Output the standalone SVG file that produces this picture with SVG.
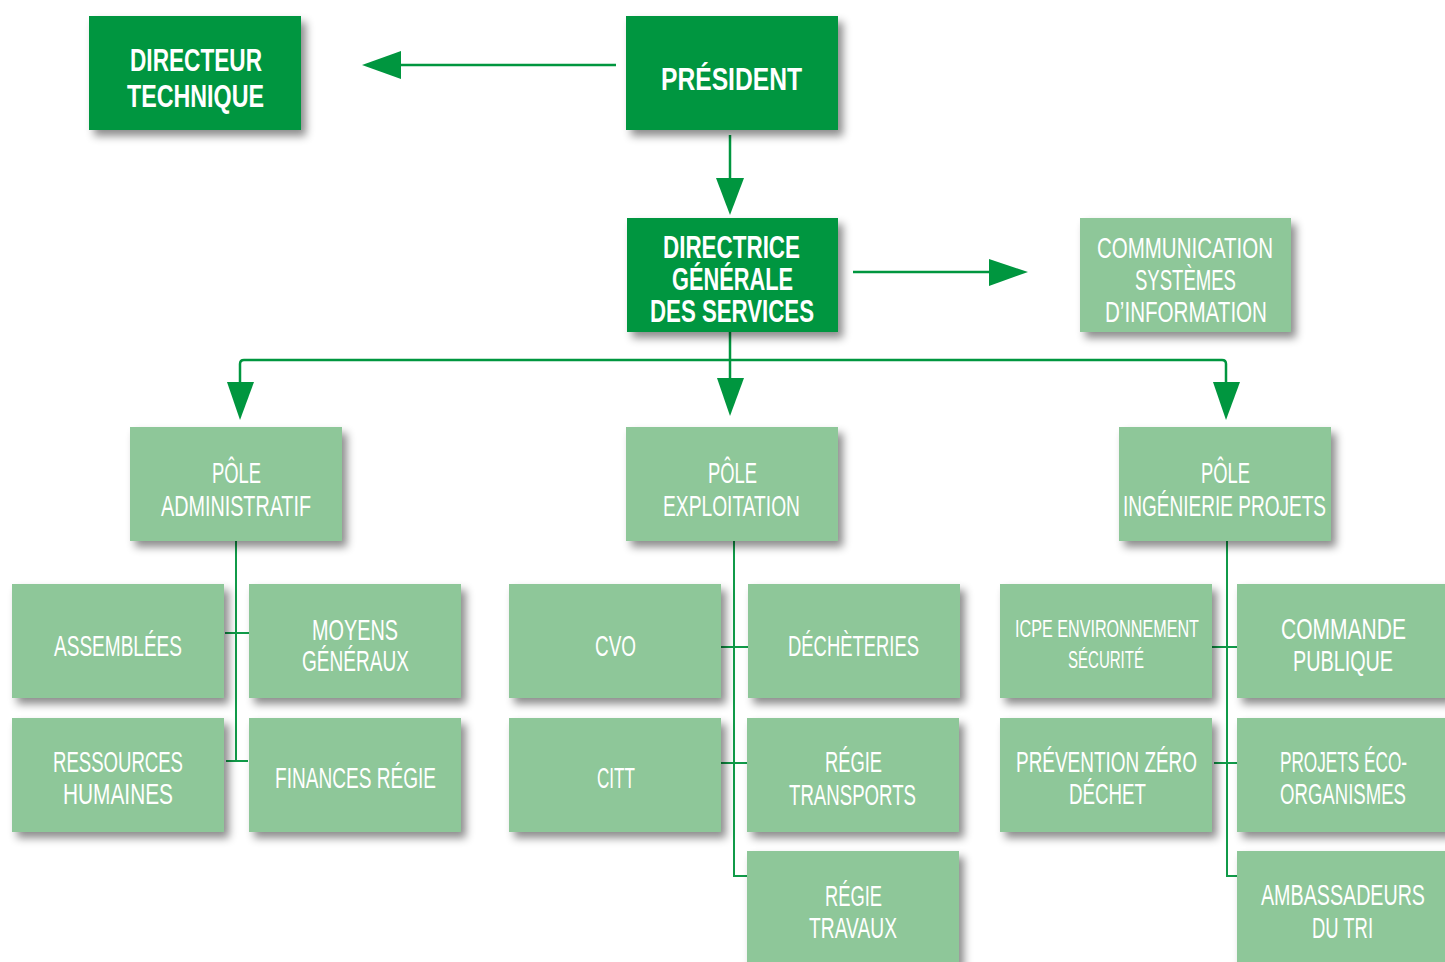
<svg xmlns="http://www.w3.org/2000/svg" width="1445" height="962" viewBox="0 0 1445 962">
<defs>
<filter id="sh" x="-10%" y="-10%" width="130%" height="140%">
<feDropShadow dx="5" dy="6" stdDeviation="4" flood-color="#000" flood-opacity="0.45"/>
</filter>
<style>
.dark{fill:#00963f;filter:url(#sh)}
.light{fill:#8ec799;filter:url(#sh)}
text{fill:#fff;font-family:"Liberation Sans Narrow","Liberation Sans",Arial,sans-serif;text-anchor:middle}
.b{font-weight:bold;font-size:31px}
.r{font-size:29px}
.s{font-size:24px}
.arr{stroke:#00963f;stroke-width:2.5;fill:none}
.ah{fill:#00963f}
.ln{stroke:#109a48;stroke-width:2;fill:none}
</style>
</defs>
<rect width="1445" height="962" fill="#fff"/>

<g id="connectors">
<line class="arr" x1="616" y1="65" x2="398" y2="65"/>
<polygon class="ah" points="362,65 401,51 401,79"/>
<line class="arr" x1="730" y1="135" x2="730" y2="182"/>
<polygon class="ah" points="730,215 716,178 744,178"/>
<line class="arr" x1="853" y1="272" x2="992" y2="272"/>
<polygon class="ah" points="1028,272 989,259 989,286"/>
<path class="arr" d="M730 332 V380 M240 382 V364 Q240 360 244 360 H1222 Q1226 360 1226 364 V384"/>
<polygon class="ah" points="240,420 227,382 254,382"/>
<polygon class="ah" points="730,416 717,378 744,378"/>
<polygon class="ah" points="1226,420 1213,382 1240,382"/>
<path class="ln" d="M236 541 V761 M225 633 H250 M226 761 H248"/>
<path class="ln" d="M734 541 V876 H748 M721 647 H748 M721 763 H747"/>
<path class="ln" d="M1227 541 V876 H1243 M1212 647 H1237 M1214 763 H1241"/>
</g>

<g id="directeur-technique">
<rect class="dark" x="89" y="16" width="212" height="114"/>
<text class="b" x="196" y="71" textLength="132" lengthAdjust="spacingAndGlyphs">DIRECTEUR</text>
<text class="b" x="195.5" y="107" textLength="137" lengthAdjust="spacingAndGlyphs">TECHNIQUE</text>
</g>
<g id="president">
<rect class="dark" x="626" y="16" width="212" height="114"/>
<text class="b" x="731.5" y="90" textLength="141" lengthAdjust="spacingAndGlyphs">PRÉSIDENT</text>
</g>
<g id="dgs">
<rect class="dark" x="627" y="218" width="211" height="114"/>
<text class="b" x="731.5" y="258" textLength="137" lengthAdjust="spacingAndGlyphs">DIRECTRICE</text>
<text class="b" x="732.5" y="290" textLength="121" lengthAdjust="spacingAndGlyphs">GÉNÉRALE</text>
<text class="b" x="732" y="322" textLength="164" lengthAdjust="spacingAndGlyphs">DES SERVICES</text>
</g>
<g id="communication">
<rect class="light" x="1080" y="218" width="211" height="114"/>
<text class="r" x="1185" y="258" textLength="176" lengthAdjust="spacingAndGlyphs">COMMUNICATION</text>
<text class="r" x="1185.5" y="290" textLength="101" lengthAdjust="spacingAndGlyphs">SYSTÈMES</text>
<text class="r" x="1186" y="322" textLength="162" lengthAdjust="spacingAndGlyphs">D’INFORMATION</text>
</g>

<g id="pole-admin">
<rect class="light" x="130" y="427" width="212" height="114"/>
<text class="r" x="236.5" y="483" textLength="49" lengthAdjust="spacingAndGlyphs">PÔLE</text>
<text class="r" x="236" y="516" textLength="150" lengthAdjust="spacingAndGlyphs">ADMINISTRATIF</text>
</g>
<g id="pole-exploitation">
<rect class="light" x="626" y="427" width="212" height="114"/>
<text class="r" x="732.5" y="483" textLength="49" lengthAdjust="spacingAndGlyphs">PÔLE</text>
<text class="r" x="731.5" y="516" textLength="137" lengthAdjust="spacingAndGlyphs">EXPLOITATION</text>
</g>
<g id="pole-ingenierie">
<rect class="light" x="1119" y="427" width="212" height="114"/>
<text class="r" x="1225.5" y="483" textLength="49" lengthAdjust="spacingAndGlyphs">PÔLE</text>
<text class="r" x="1224.5" y="516" textLength="203" lengthAdjust="spacingAndGlyphs">INGÉNIERIE PROJETS</text>
</g>

<g id="assemblees">
<rect class="light" x="12" y="584" width="212" height="114"/>
<text class="r" x="118" y="656" textLength="128" lengthAdjust="spacingAndGlyphs">ASSEMBLÉES</text>
</g>
<g id="moyens-generaux">
<rect class="light" x="249" y="584" width="212" height="114"/>
<text class="r" x="355" y="640" textLength="86" lengthAdjust="spacingAndGlyphs">MOYENS</text>
<text class="r" x="355.5" y="671" textLength="107" lengthAdjust="spacingAndGlyphs">GÉNÉRAUX</text>
</g>
<g id="ressources-humaines">
<rect class="light" x="12" y="718" width="212" height="114"/>
<text class="r" x="118" y="772" textLength="130" lengthAdjust="spacingAndGlyphs">RESSOURCES</text>
<text class="r" x="118" y="804" textLength="110" lengthAdjust="spacingAndGlyphs">HUMAINES</text>
</g>
<g id="finances-regie">
<rect class="light" x="249" y="718" width="212" height="114"/>
<text class="r" x="355.5" y="788" textLength="161" lengthAdjust="spacingAndGlyphs">FINANCES RÉGIE</text>
</g>

<g id="cvo">
<rect class="light" x="509" y="584" width="212" height="114"/>
<text class="r" x="615.5" y="656" textLength="41" lengthAdjust="spacingAndGlyphs">CVO</text>
</g>
<g id="decheteries">
<rect class="light" x="748" y="584" width="212" height="114"/>
<text class="r" x="853.5" y="656" textLength="131" lengthAdjust="spacingAndGlyphs">DÉCHÈTERIES</text>
</g>
<g id="citt">
<rect class="light" x="509" y="718" width="212" height="114"/>
<text class="r" x="616" y="788" textLength="38" lengthAdjust="spacingAndGlyphs">CITT</text>
</g>
<g id="regie-transports">
<rect class="light" x="747" y="718" width="212" height="114"/>
<text class="r" x="853.5" y="772" textLength="57" lengthAdjust="spacingAndGlyphs">RÉGIE</text>
<text class="r" x="852.5" y="805" textLength="127" lengthAdjust="spacingAndGlyphs">TRANSPORTS</text>
</g>
<g id="regie-travaux">
<rect class="light" x="747" y="851" width="212" height="114"/>
<text class="r" x="853.5" y="906" textLength="57" lengthAdjust="spacingAndGlyphs">RÉGIE</text>
<text class="r" x="853" y="938" textLength="88" lengthAdjust="spacingAndGlyphs">TRAVAUX</text>
</g>

<g id="icpe">
<rect class="light" x="1000" y="584" width="212" height="114"/>
<text class="s" x="1107" y="637" textLength="184" lengthAdjust="spacingAndGlyphs">ICPE ENVIRONNEMENT</text>
<text class="s" x="1106" y="668" textLength="76" lengthAdjust="spacingAndGlyphs">SÉCURITÉ</text>
</g>
<g id="commande-publique">
<rect class="light" x="1237" y="584" width="212" height="114"/>
<text class="r" x="1343.5" y="639" textLength="125" lengthAdjust="spacingAndGlyphs">COMMANDE</text>
<text class="r" x="1343" y="671" textLength="100" lengthAdjust="spacingAndGlyphs">PUBLIQUE</text>
</g>
<g id="prevention">
<rect class="light" x="1000" y="718" width="212" height="114"/>
<text class="r" x="1106.5" y="772" textLength="181" lengthAdjust="spacingAndGlyphs">PRÉVENTION ZÉRO</text>
<text class="r" x="1107.5" y="804" textLength="77" lengthAdjust="spacingAndGlyphs">DÉCHET</text>
</g>
<g id="projets-eco">
<rect class="light" x="1237" y="718" width="212" height="114"/>
<text class="r" x="1343.5" y="772" textLength="127" lengthAdjust="spacingAndGlyphs">PROJETS ÉCO-</text>
<text class="r" x="1343" y="804" textLength="126" lengthAdjust="spacingAndGlyphs">ORGANISMES</text>
</g>
<g id="ambassadeurs">
<rect class="light" x="1237" y="851" width="212" height="114"/>
<text class="r" x="1343" y="905" textLength="164" lengthAdjust="spacingAndGlyphs">AMBASSADEURS</text>
<text class="r" x="1342.5" y="938" textLength="61" lengthAdjust="spacingAndGlyphs">DU TRI</text>
</g>
</svg>
